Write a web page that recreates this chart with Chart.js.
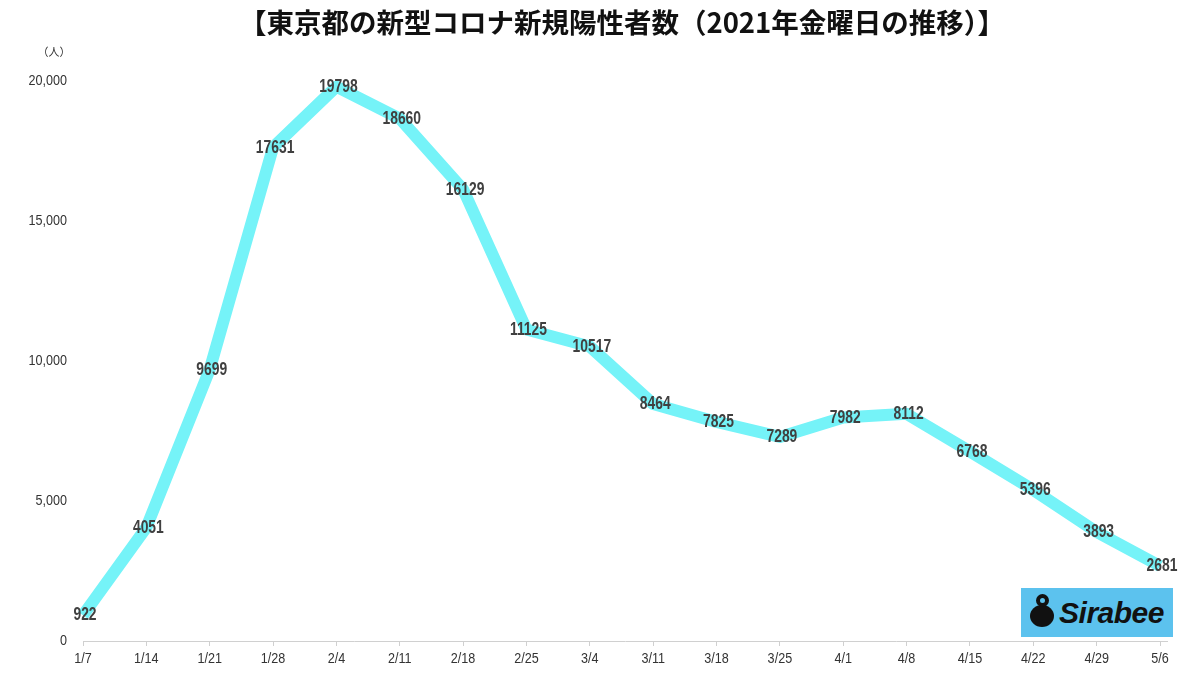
<!DOCTYPE html>
<html lang="ja">
<head>
    <meta charset="UTF-8">
    <title>東京都の新型コロナ新規陽性者数</title>
    <script src="https://cdn.jsdelivr.net/npm/chart.js"></script>
    <style>
        body {
            margin: 0;
            background: #fff;
        }
        #wrap {
            position: relative;
            width: 1200px;
            height: 676px;
        }
        #logo {
            position: absolute;
            left: 1021px;
            top: 588px;
            width: 152px;
            height: 49px;
            background: #5cc2ee;
            font-family: 'Liberation Sans', Arial, sans-serif;
            font-weight: bold;
            font-style: italic;
            font-size: 30px;
            color: #111;
            line-height: 50px;
            text-align: right;
            box-sizing: border-box;
            padding-right: 9px;
            letter-spacing: -0.5px;
        }
        #logo span {
            position: absolute;
            left: 9px;
            top: 17px;
            width: 24px;
            height: 22px;
            border-radius: 50%;
            background: #111;
        }
        #logo span:before {
            content: '';
            position: absolute;
            left: 6px;
            top: -11px;
            width: 13px;
            height: 13px;
            border: 4px solid #111;
            border-radius: 50%;
            box-sizing: border-box;
        }
    </style>
</head>
<body>
    <div id="wrap">
        <canvas id="covidChart" width="1200" height="676"></canvas>
        <div id="logo"><span></span>Sirabee</div>
    </div>

    <script>
        const titleText = '【東京都の新型コロナ新規陽性者数（2021年金曜日の推移）】';
        const unitText = '（人）';
        const fridays = ['1/7', '1/14', '1/21', '1/28', '2/4', '2/11', '2/18', '2/25', '3/4',
            '3/11', '3/18', '3/25', '4/1', '4/8', '4/15', '4/22', '4/29', '5/6'];
        const newCases = [922, 4051, 9699, 17631, 19798, 18660, 16129, 11125, 10517,
            8464, 7825, 7289, 7982, 8112, 6768, 5396, 3893, 2681];
        const yTicks = [0, 5000, 10000, 15000, 20000];

        const sans = "'Liberation Sans', Arial, sans-serif";

        // condensed text: squeeze the font horizontally
        function narrowText(c, text, x, y, scale) {
            c.save();
            c.translate(x, y);
            c.scale(scale, 1);
            c.fillText(text, 0, 0);
            c.restore();
        }

        // title, unit, axis labels and the numbers on the points
        const labelPlugin = {
            id: 'pointLabels',
            afterDraw(chart) {
                const c = chart.ctx;
                const area = chart.chartArea;
                const xs = chart.scales.x;
                const ys = chart.scales.y;
                c.save();

                c.font = 'bold 27.5px "Noto Sans CJK JP", sans-serif';
                c.fillStyle = '#111';
                c.textAlign = 'center';
                c.textBaseline = 'middle';
                c.fillText(titleText, 622, 23);

                c.font = '11px "Noto Sans CJK JP", sans-serif';
                c.fillStyle = '#333';
                c.fillText(unitText, 54, 52);

                // axis line runs a bit past the last point
                c.strokeStyle = '#d0d0d0';
                c.lineWidth = 1;
                c.beginPath();
                c.moveTo(area.left, area.bottom + 0.5);
                c.lineTo(area.right + 8, area.bottom + 0.5);
                c.stroke();

                c.font = '15px ' + sans;
                c.fillStyle = '#333';
                c.textAlign = 'right';
                yTicks.forEach(v => {
                    narrowText(c, v.toLocaleString('en-US'), 67, ys.getPixelForValue(v), 0.84);
                });
                c.textAlign = 'center';
                fridays.forEach((d, i) => {
                    narrowText(c, d, xs.getPixelForValue(i), area.bottom + 18, 0.84);
                });

                const meta = chart.getDatasetMeta(0);
                c.font = 'bold 19px ' + sans;
                c.fillStyle = '#404040';
                meta.data.forEach((pt, i) => {
                    narrowText(c, String(newCases[i]), pt.x + 2, pt.y, 0.73);
                });
                c.restore();
            }
        };

        new Chart(document.getElementById('covidChart'), {
            type: 'line',
            data: {
                labels: fridays,
                datasets: [{
                    data: newCases,
                    borderColor: '#75f3f8',
                    borderWidth: 12,
                    pointRadius: 0,
                    tension: 0,
                    borderJoinStyle: 'round'
                }]
            },
            options: {
                responsive: false,
                animation: false,
                layout: {
                    padding: { left: 75, right: 40, top: 81, bottom: 30 }
                },
                plugins: {
                    legend: { display: false },
                    tooltip: { enabled: false }
                },
                scales: {
                    x: {
                        grid: {
                            drawOnChartArea: false,
                            tickLength: 5,
                            color: '#d0d0d0'
                        },
                        border: { display: false },
                        ticks: { display: false, autoSkip: false }
                    },
                    y: {
                        min: 0,
                        max: 20000,
                        grid: { display: false },
                        border: { display: false },
                        ticks: { display: false, stepSize: 5000 }
                    }
                }
            },
            plugins: [labelPlugin]
        });
    </script>
</body>
</html>
